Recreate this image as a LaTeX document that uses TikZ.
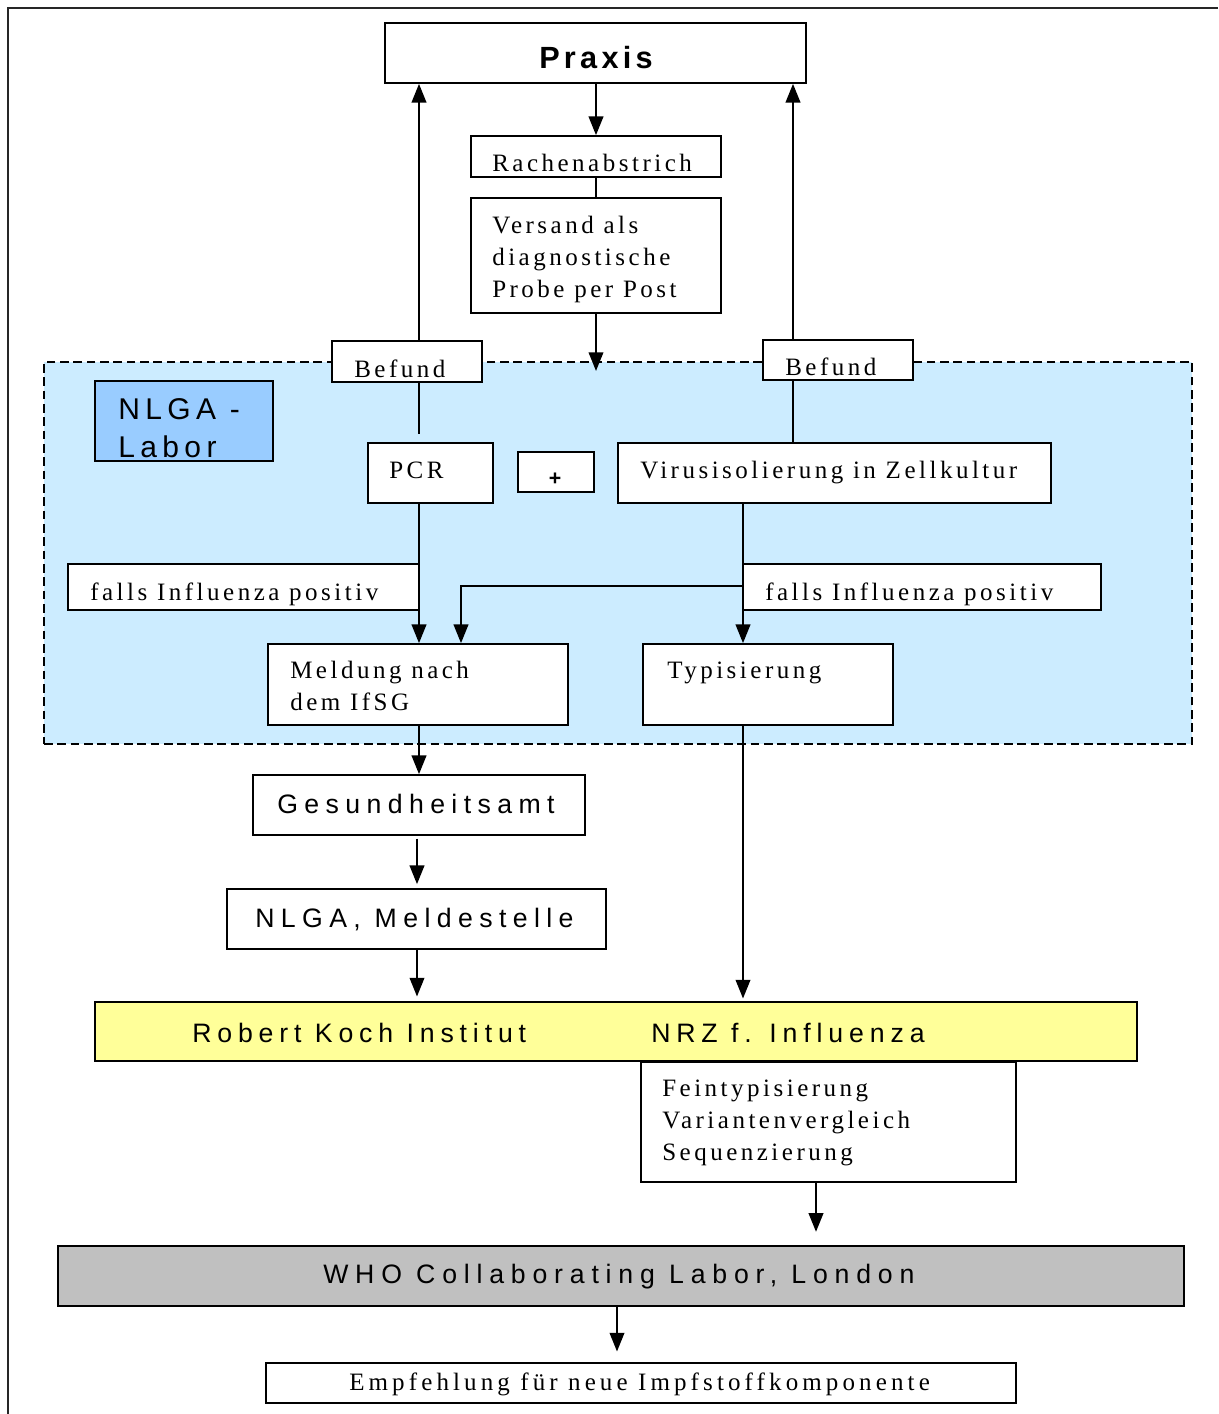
\documentclass[tikz,border=0pt]{standalone}
\usepackage{fontspec}
\usetikzlibrary{arrows.meta,fit,calc}
\newfontfamily\serf[LetterSpace=14,Ligatures=CommonOff]{Liberation Serif}
\newfontfamily\serfw[LetterSpace=16.5,Ligatures=CommonOff]{Liberation Serif}
\newfontfamily\sanf[LetterSpace=24]{Liberation Sans}
\newfontfamily\sanw[LetterSpace=25.5]{Liberation Sans}
\newfontfamily\sanr[LetterSpace=22]{Liberation Sans}
\newfontfamily\sanl[LetterSpace=18]{Liberation Sans}
\newfontfamily\sanb[LetterSpace=14]{Liberation Sans}
\definecolor{regionblue}{HTML}{CCECFF}
\definecolor{laborblue}{HTML}{99CCFF}
\definecolor{rkiyellow}{HTML}{FFFF99}
\definecolor{whogray}{HTML}{C0C0C0}
\tikzset{
  box/.style={draw=black, line width=1.3pt, fill=white, inner sep=0pt},
  ser/.style={font=\serf\fontsize{18.75}{24}\selectfont, inner sep=0pt, anchor=base west, align=left},
  sanstxt/.style={font=\sanf\fontsize{20}{24}\selectfont, inner sep=0pt, anchor=base west},
  rkitxt/.style={font=\sanr\fontsize{20}{24}\selectfont, inner sep=0pt, anchor=base west},
  labtxt/.style={font=\sanl\fontsize{22.5}{28.5}\selectfont, inner sep=0pt, anchor=base west, align=left},
  boldtxt/.style={font=\sanb\bfseries\fontsize{23}{28}\selectfont, inner sep=0pt, anchor=base west},
  conn/.style={line width=1.3pt, draw=black},
  arr/.style={conn, -{Triangle[length=14pt,width=11pt]}}
}
\begin{document}
\begin{tikzpicture}[x=0.75pt,y=-0.75pt]
\useasboundingbox (0,0) rectangle (1218,1414);
% outer frame
\draw[line width=1.5pt, draw=black!85] (8,1414) -- (8,8) -- (1218,8);
% helper coordinates
\coordinate (xL) at (419,0);
\coordinate (xR) at (793,0);
\coordinate (xT) at (743,0);
\coordinate (xB) at (461,0);
\coordinate (xG) at (417,0);
\coordinate (xF) at (816,0);
\coordinate (xW) at (617,0);
% NLGA region
\node[fit={(44,362) (1192,744)}, inner sep=0pt, fill=regionblue, draw=black, line width=1.6pt, dash pattern=on 6.5pt off 3.5pt] (region) {};
% boxes
\node[box, fit={(385,23) (806,83)}] (praxis) {};
\node[box, fit={(471,136) (721,177)}] (rach) {};
\node[box, fit={(471,198) (721,313)}] (versand) {};
\node[box, fit={(332,341) (482,382)}] (befL) {};
\node[box, fit={(763,340) (913,380)}] (befR) {};
\node[box, fill=laborblue, fit={(95,381) (273,461)}] (labor) {};
\node[box, fit={(368,443) (493,503)}] (pcr) {};
\node[box, fit={(518,452) (594,492)}] (plus) {};
\node[box, fit={(618,443) (1051,503)}] (virus) {};
\node[box, fit={(68,564) (419,610)}] (fallsL) {};
\node[box, fit={(743,564) (1101,610)}] (fallsR) {};
\node[box, fit={(268,644) (568,725)}] (meld) {};
\node[box, fit={(643,644) (893,725)}] (typ) {};
\node[box, fit={(253,775) (585,835)}] (gesund) {};
\node[box, fit={(227,889) (606,949)}] (nlgam) {};
\node[box, fill=rkiyellow, fit={(95,1002) (1137,1061)}] (rki) {};
\node[box, fit={(641,1062) (1016,1182)}] (fein) {};
\node[box, fill=whogray, fit={(58,1246) (1184,1306)}] (who) {};
\node[box, fit={(266,1363) (1016,1403)}] (empf) {};
% texts (multi-line nodes are anchored at the baseline of their last line)
\node[boldtxt] (praxis-t) at (539,68) {Praxis};
\node[ser] (rach-t) at (492,171) {Rachenabstrich};
\node[ser] (versand-t) at (492,297) {Versand als\\diagnostische\\Probe per Post};
\node[ser] (befL-t) at (354,377) {Befund};
\node[ser] (befR-t) at (785,375) {Befund};
\node[labtxt] (labor-t) at (118,457) {NLGA -\\Labor};
\node[ser] (pcr-t) at (389,478) {PCR};
\node[font=\sanb\bfseries\fontsize{16}{18}\selectfont, inner sep=0pt] (plus-t) at (555,479) {+};
\node[ser] (virus-t) at (640,478) {Virusisolierung in Zellkultur};
\node[ser] (fallsL-t) at (90,600) {falls Influenza positiv};
\node[ser] (fallsR-t) at (765,600) {falls Influenza positiv};
\node[ser] (meld-t) at (290,710) {Meldung nach\\dem IfSG};
\node[ser] (typ-t) at (667,678) {Typisierung};
\node[sanstxt] (gesund-t) at (277,813) {Gesundheitsamt};
\node[sanstxt] (nlgam-t) at (255,927) {NLGA, Meldestelle};
\node[rkitxt] (rki-t) at (192,1042) {Robert Koch Institut};
\node[rkitxt] (nrz-t) at (651,1042) {NRZ f. Influenza};
\node[ser, font=\serf\fontsize{18.75}{23.7}\selectfont] (fein-t) at (662,1160) {Feintypisierung\\Variantenvergleich\\Sequenzierung};
\node[sanstxt, font=\sanw\fontsize{20}{24}\selectfont] (who-t) at (323,1283) {WHO Collaborating Labor, London};
\node[ser, font=\serfw\fontsize{18.75}{24}\selectfont] (empf-t) at (349,1390) {Empfehlung für neue Impfstoffkomponente};
% connectors
\draw[arr] (rach.north |- praxis.south) -- (rach.north);
\draw[conn] (rach.south) -- (versand.north);
\draw[arr] (versand.south) -- ($(versand.south |- region.north)+(0,10)$);
\draw[arr] (befL.north -| xL) -- (praxis.south -| xL);
\draw[conn, shorten >=6pt] (befL.south -| xL) -- (pcr.north -| xL);
\draw[arr] (befR.north -| xR) -- (praxis.south -| xR);
\draw[conn] (virus.north -| xR) -- (befR.south -| xR);
\draw[arr] (pcr.south -| xL) -- (meld.north -| xL);
\draw[arr] (virus.south -| xT) -- (typ.north -| xT);
\coordinate (br) at (743,586);
\draw[arr] (br) -| (meld.north -| xB);
\draw[arr] (meld.south -| xL) -- (gesund.north -| xL);
\draw[arr, shorten <=2pt, shorten >=3pt] (gesund.south -| xG) -- (nlgam.north -| xG);
\draw[arr, shorten >=3.5pt] (nlgam.south -| xG) -- (rki.north -| xG);
\draw[arr, shorten >=2pt] (typ.south -| xT) -- (rki.north -| xT);
\draw[arr, shorten >=10pt] (fein.south -| xF) -- (who.north -| xF);
\draw[arr, shorten >=8pt] (who.south -| xW) -- (empf.north -| xW);
\end{tikzpicture}
\end{document}
